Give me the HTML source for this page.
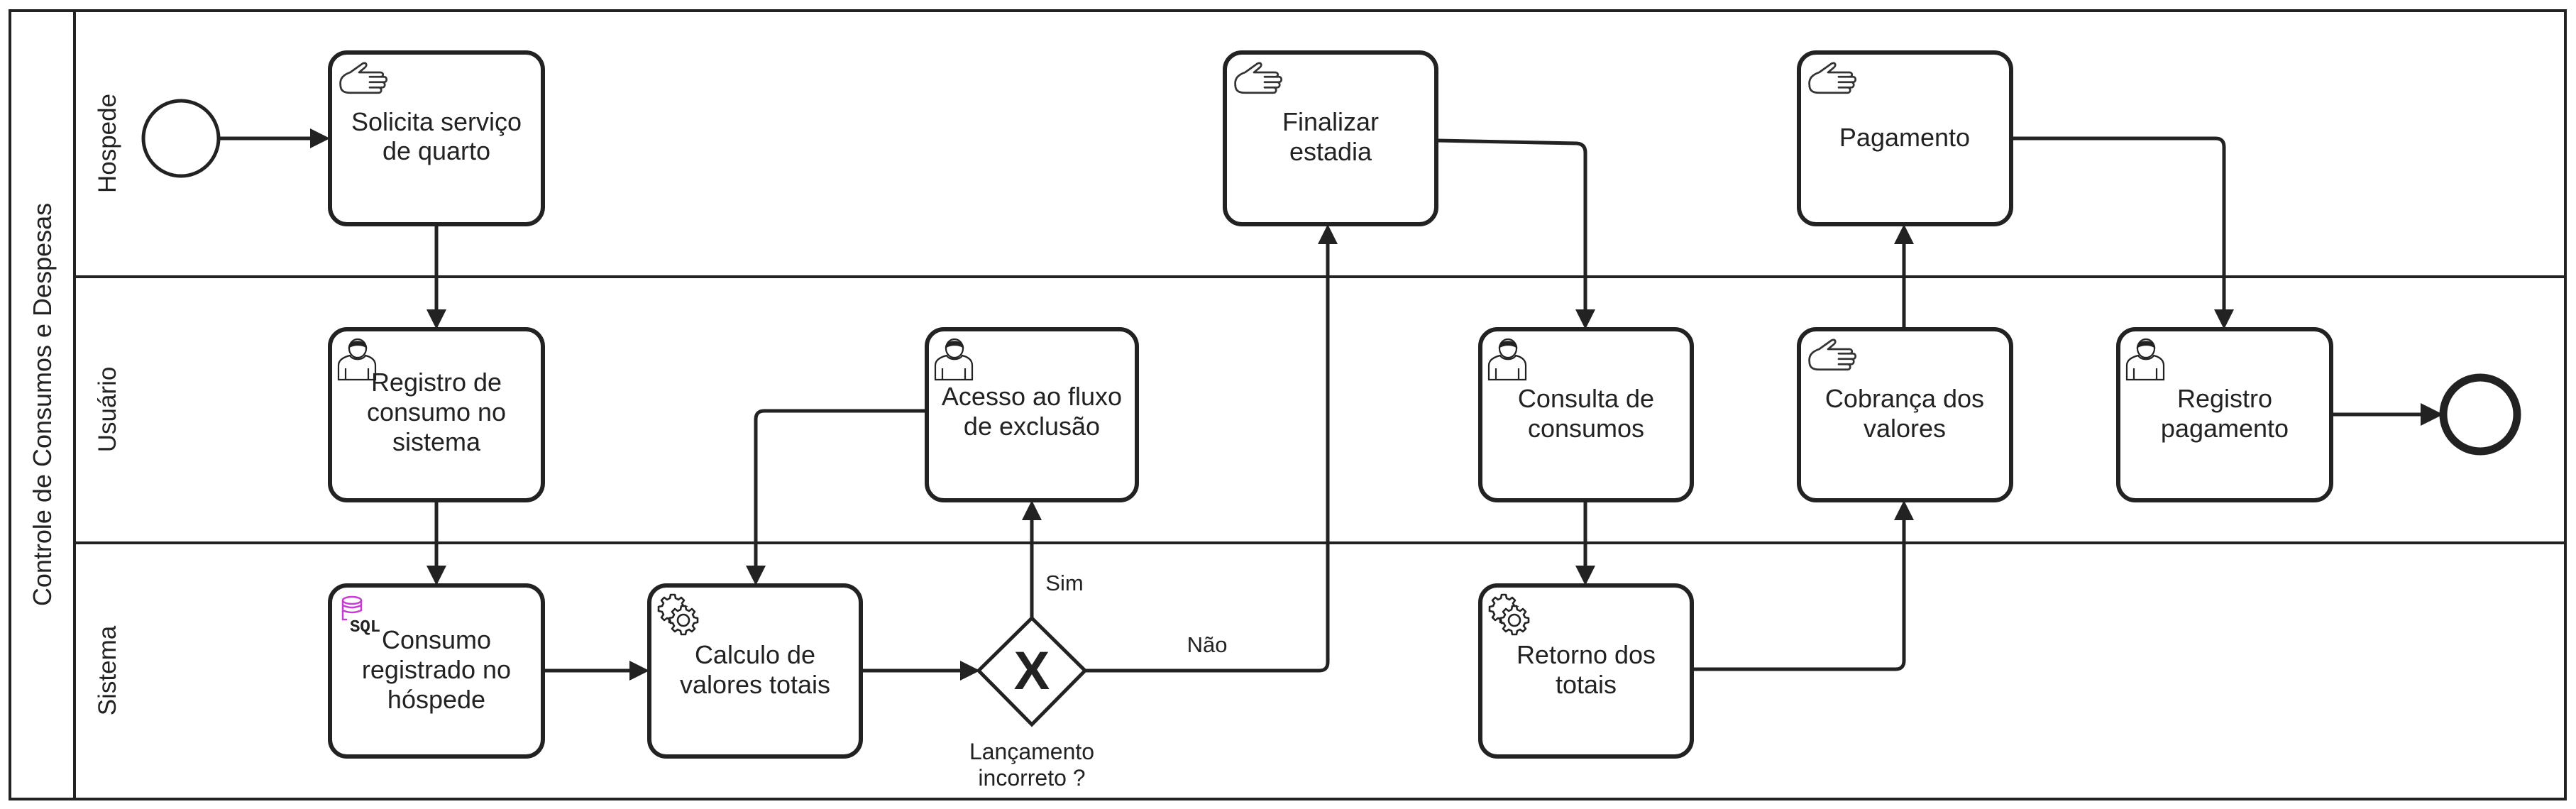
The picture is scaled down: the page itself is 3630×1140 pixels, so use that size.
<!DOCTYPE html>
<html><head><meta charset="utf-8"><style>
html,body{margin:0;padding:0;background:#fff;}
svg{display:block;}
text{font-family:"Liberation Sans",sans-serif;fill:#222;}
</style></head><body>
<svg width="3630" height="1140" viewBox="0 0 3630 1140" xmlns="http://www.w3.org/2000/svg">
<defs>
<g id="hand" fill="none" stroke="#333" stroke-width="2.2" stroke-linejoin="round">
<path d="M3 30 C2 22 8 18 14 16 L28 6 C32 4 34 8 30 11 L24 16 L48 16 C52 16 52 21 48 21 L36 21 L52 21 C56 21 56 27 52 27 L36 27 L50 27 C54 27 54 33 50 33 L36 33 L46 33 C50 33 50 39 46 39 L14 39 C6 39 3 36 3 30 Z"/>
</g>
<g id="user" fill="none" stroke="#222" stroke-width="2.2">
<path d="M0 58 L0 38 C0 30 8 26 16 24 C20 31 34 31 38 24 C46 26 52 30 52 38 L52 58 Z"/>
<ellipse cx="27" cy="14" rx="12" ry="13" fill="#fff"/>
<path d="M15 12 C16 2 38 2 39 12 C33 8 22 8 15 12 Z" fill="#222"/>
<path d="M10 42 L10 58 M42 42 L42 58"/>
</g>
<g id="gear" fill="none" stroke="#222" stroke-width="2.6" stroke-linejoin="round">
<path d="M20 3 L26 3 L27 8 L31 10 L35 7 L39 11 L36 15 L38 19 L43 20 L43 26 L38 27 L36 31 L39 35 L35 39 L31 36 L27 38 L26 43 L20 43 L19 38 L15 36 L11 39 L7 35 L10 31 L8 27 L3 26 L3 20 L8 19 L10 15 L7 11 L11 7 L15 10 L19 8 Z"/>
<circle cx="38" cy="36" r="17" fill="#fff" stroke="none"/>
<path d="M35 19 L41 19 L42 24 L46 26 L50 23 L54 27 L51 31 L53 35 L58 36 L58 42 L53 43 L51 47 L54 51 L50 55 L46 52 L42 54 L41 59 L35 59 L34 54 L30 52 L26 55 L22 51 L25 47 L23 43 L18 42 L18 36 L23 35 L25 31 L22 27 L26 23 L30 26 L34 24 Z"/>
<circle cx="38" cy="39" r="8"/>
</g>
</defs>

<!-- pool -->
<rect x="14" y="15" width="3601" height="1111" fill="none" stroke="#222" stroke-width="4"/>
<line x1="105" y1="15" x2="105" y2="1126" stroke="#222" stroke-width="4"/>
<line x1="105" y1="390" x2="3615" y2="390" stroke="#222" stroke-width="4"/>
<line x1="105" y1="765" x2="3615" y2="765" stroke="#222" stroke-width="4"/>
<text transform="translate(72,570) rotate(-90)" font-size="36" text-anchor="middle">Controle de Consumos e Despesas</text>
<text transform="translate(163,202) rotate(-90)" font-size="35" text-anchor="middle">Hospede</text>
<text transform="translate(163,577) rotate(-90)" font-size="35" text-anchor="middle">Usuário</text>
<text transform="translate(163,945) rotate(-90)" font-size="35" text-anchor="middle">Sistema</text>

<!-- events -->
<circle cx="255" cy="195" r="53" fill="none" stroke="#222" stroke-width="5"/>
<circle cx="3495" cy="584" r="52" fill="none" stroke="#222" stroke-width="11"/>

<!-- connectors -->
<g fill="none" stroke="#222" stroke-width="5" stroke-linejoin="round">
<path d="M308 195 L440 195"/>
<path d="M615 316 L615 440"/>
<path d="M615 705 L615 800"/>
<path d="M765 945 L890 945"/>
<path d="M1213 945 L1355 945"/>
<path d="M1454 871 L1454 730"/>
<path d="M1306 579 L1077 579 Q1065 579 1065 591 L1065 800"/>
<path d="M1528 945 L1859 945 Q1871 945 1871 933 L1871 341"/>
<path d="M2024 198 L2222 202 Q2234 203 2234 215 L2234 439"/>
<path d="M2234 705 L2234 800"/>
<path d="M2384 943 L2671 943 Q2683 943 2683 931 L2683 730"/>
<path d="M2683 464 L2683 341"/>
<path d="M2834 195 L3122 195 Q3134 195 3134 207 L3134 439"/>
<path d="M3285 584 L3415 584"/>
</g>
<g fill="#222">
<polygon points="465,195 437,181 437,209"/>
<polygon points="615,464 601,436 629,436"/>
<polygon points="615,825 601,797 629,797"/>
<polygon points="915,945 887,931 887,959"/>
<polygon points="1381,945 1353,931 1353,959"/>
<polygon points="1454,705 1440,733 1468,733"/>
<polygon points="1065,825 1051,797 1079,797"/>
<polygon points="1871,316 1857,344 1885,344"/>
<polygon points="2234,464 2220,436 2248,436"/>
<polygon points="2234,825 2220,797 2248,797"/>
<polygon points="2683,705 2669,733 2697,733"/>
<polygon points="2683,316 2669,344 2697,344"/>
<polygon points="3134,464 3120,436 3148,436"/>
<polygon points="3443,584 3411,568 3411,600"/>
</g>

<!-- gateway -->
<polygon points="1454,871 1529,945 1454,1021 1379,945" fill="#fff" stroke="#222" stroke-width="5"/>
<text x="1454" y="971" font-size="76" font-weight="bold" text-anchor="middle">X</text>
<text x="1500" y="832" font-size="31" text-anchor="middle">Sim</text>
<text x="1701" y="919" font-size="31" text-anchor="middle">Não</text>
<text x="1454" y="1070" font-size="32" text-anchor="middle">Lançamento</text>
<text x="1454" y="1107" font-size="32" text-anchor="middle">incorreto ?</text>

<!-- tasks -->
<g fill="#fff" stroke="#222" stroke-width="6">
<rect x="465" y="74" width="300" height="242" rx="24"/>
<rect x="465" y="464" width="300" height="241" rx="24"/>
<rect x="465" y="825" width="300" height="241" rx="24"/>
<rect x="915" y="825" width="298" height="241" rx="24"/>
<rect x="1306" y="464" width="296" height="241" rx="24"/>
<rect x="1726" y="74" width="298" height="242" rx="24"/>
<rect x="2086" y="464" width="298" height="241" rx="24"/>
<rect x="2086" y="825" width="298" height="241" rx="24"/>
<rect x="2535" y="74" width="299" height="242" rx="24"/>
<rect x="2535" y="464" width="299" height="241" rx="24"/>
<rect x="2985" y="464" width="300" height="241" rx="24"/>
</g>

<!-- icons -->
<use href="#hand" transform="translate(476,82) scale(1.25)"/>
<use href="#hand" transform="translate(1737,82) scale(1.25)"/>
<use href="#hand" transform="translate(2546,82) scale(1.25)"/>
<use href="#hand" transform="translate(2546,472) scale(1.25)"/>
<use href="#user" transform="translate(477,477)"/>
<use href="#user" transform="translate(1318,477)"/>
<use href="#user" transform="translate(2098,477)"/>
<use href="#user" transform="translate(2997,477)"/>
<use href="#gear" transform="translate(925,835)"/>
<use href="#gear" transform="translate(2096,835)"/>
<g fill="none" stroke="#c83cd6" stroke-width="2.5">
<ellipse cx="496" cy="846" rx="13" ry="5"/>
<path d="M483 846 L483 860 Q496 866 509 860 L509 846 M483 853 Q496 859 509 853 M483 860 L483 873 L489 873"/>
</g>
<text x="493" y="890" font-size="24" font-weight="bold" style="font-family:'Liberation Mono',monospace">SQL</text>

<!-- task labels -->
<g font-size="36" text-anchor="middle">
<text x="615" y="184">Solicita serviço</text>
<text x="615" y="225">de quarto</text>
<text x="615" y="551">Registro de</text>
<text x="615" y="593">consumo no</text>
<text x="615" y="635">sistema</text>
<text x="615" y="914">Consumo</text>
<text x="615" y="956">registrado no</text>
<text x="615" y="998">hóspede</text>
<text x="1064" y="935">Calculo de</text>
<text x="1064" y="977">valores totais</text>
<text x="1454" y="571">Acesso ao fluxo</text>
<text x="1454" y="613">de exclusão</text>
<text x="1875" y="184">Finalizar</text>
<text x="1875" y="226">estadia</text>
<text x="2235" y="574">Consulta de</text>
<text x="2235" y="616">consumos</text>
<text x="2235" y="935">Retorno dos</text>
<text x="2235" y="977">totais</text>
<text x="2684" y="206">Pagamento</text>
<text x="2684" y="574">Cobrança dos</text>
<text x="2684" y="616">valores</text>
<text x="3135" y="574">Registro</text>
<text x="3135" y="616">pagamento</text>
</g>
</svg>
</body></html>
